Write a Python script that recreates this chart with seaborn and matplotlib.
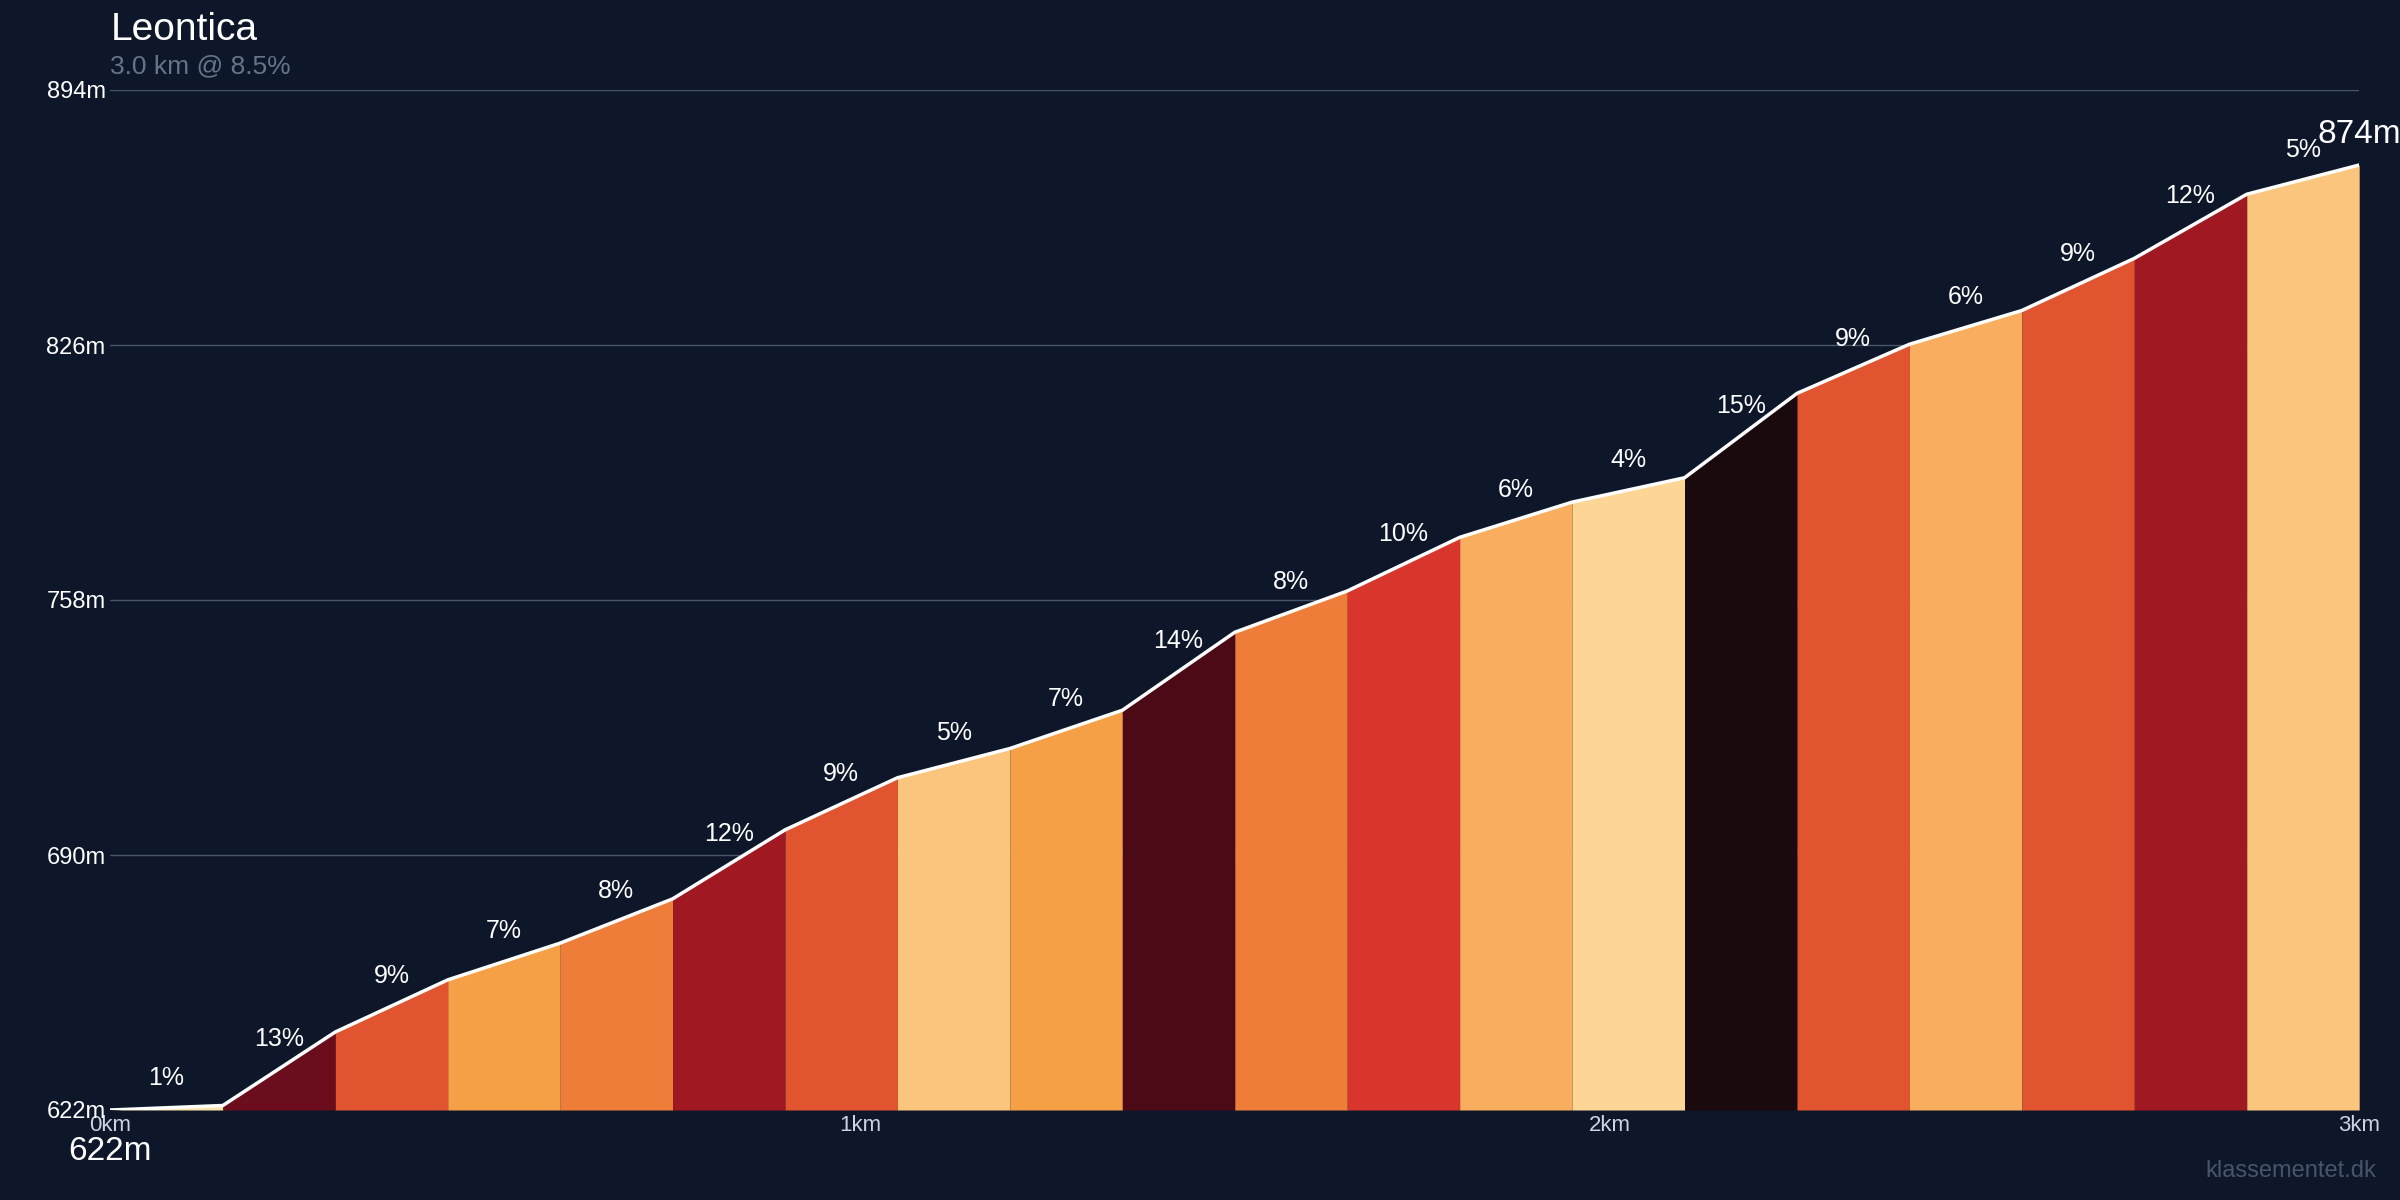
import numpy as np
import pandas as pd
import matplotlib.pyplot as plt
import seaborn as sns

# Profil der Steigung (0.15 km Segmente)
gradients = [1, 13, 9, 7, 8, 12, 9, 5, 7, 14, 8, 10, 6, 4, 15, 9, 6, 9, 12, 5]
elevations = [622, 623.2, 642.8, 656.7, 666.5, 678.3, 696.7, 710.6, 718.4, 728.6, 749.4,
              760.4, 774.7, 784.1, 790.6, 813.1, 826.2, 835.2, 849.1, 866.2, 874]
colors = {1: '#fde3a8', 4: '#fdd595', 5: '#fbc57e', 6: '#f8ad5f', 7: '#f5a047', 8: '#ef7d3a',
          9: '#e0542f', 10: '#d8352c', 12: '#a01822', 13: '#6b0d1c', 14: '#4b0a16', 15: '#1a0a0e'}

df = pd.DataFrame({'km': np.arange(21) * 0.15, 'ele': elevations})
bg = '#0e172a'

sns.set_style('dark', {'axes.facecolor': bg, 'figure.facecolor': bg})
plt.rcParams['font.family'] = ['Liberation Sans', 'DejaVu Sans']
fig, ax = plt.subplots(figsize=(24, 12), dpi=100)
fig.subplots_adjust(left=0.046, right=0.983, top=0.925, bottom=0.075)

for i, g in enumerate(gradients):
    seg = df.iloc[i:i + 2]
    ax.fill_between(seg['km'], 622, seg['ele'], color=colors[g], linewidth=0, zorder=2)
    ax.text(seg['km'].mean(), seg['ele'].mean() + 8, f'{g}%', color='white',
            fontsize=18, ha='center', va='center', zorder=4)

sns.lineplot(data=df, x='km', y='ele', color='white', linewidth=2.5, ax=ax, zorder=3)

ax.set_xlim(0, 3)
ax.set_ylim(622, 894)
ax.set_yticks([622, 690, 758, 826, 894])
ax.set_yticklabels([f'{v}m' for v in [622, 690, 758, 826, 894]], color='white', fontsize=17)
ax.set_xticks([0, 1, 2, 3])
ax.set_xticklabels([f'{v}km' for v in range(4)], color='#cbd5e1', fontsize=16)
ax.grid(axis='y', color='#475569', linewidth=1, zorder=1)
ax.grid(axis='x', visible=False)
ax.set_xlabel('')
ax.set_ylabel('')
for s in ax.spines.values():
    s.set_visible(False)
ax.tick_params(length=0)

ax.text(0, 615, '622m', color='white', fontsize=24, ha='center', va='top')
ax.text(3, 878, '874m', color='white', fontsize=24, ha='center', va='bottom')
fig.text(0.046, 0.96, 'Leontica', color='white', fontsize=28, va='bottom')
fig.text(0.046, 0.935, '3.0 km @ 8.5%', color='#64748b', fontsize=19, va='bottom')
fig.text(0.99, 0.015, 'klassementet.dk', color='#475569', fontsize=17, ha='right', va='bottom')

fig.savefig('out.png', facecolor=bg)
